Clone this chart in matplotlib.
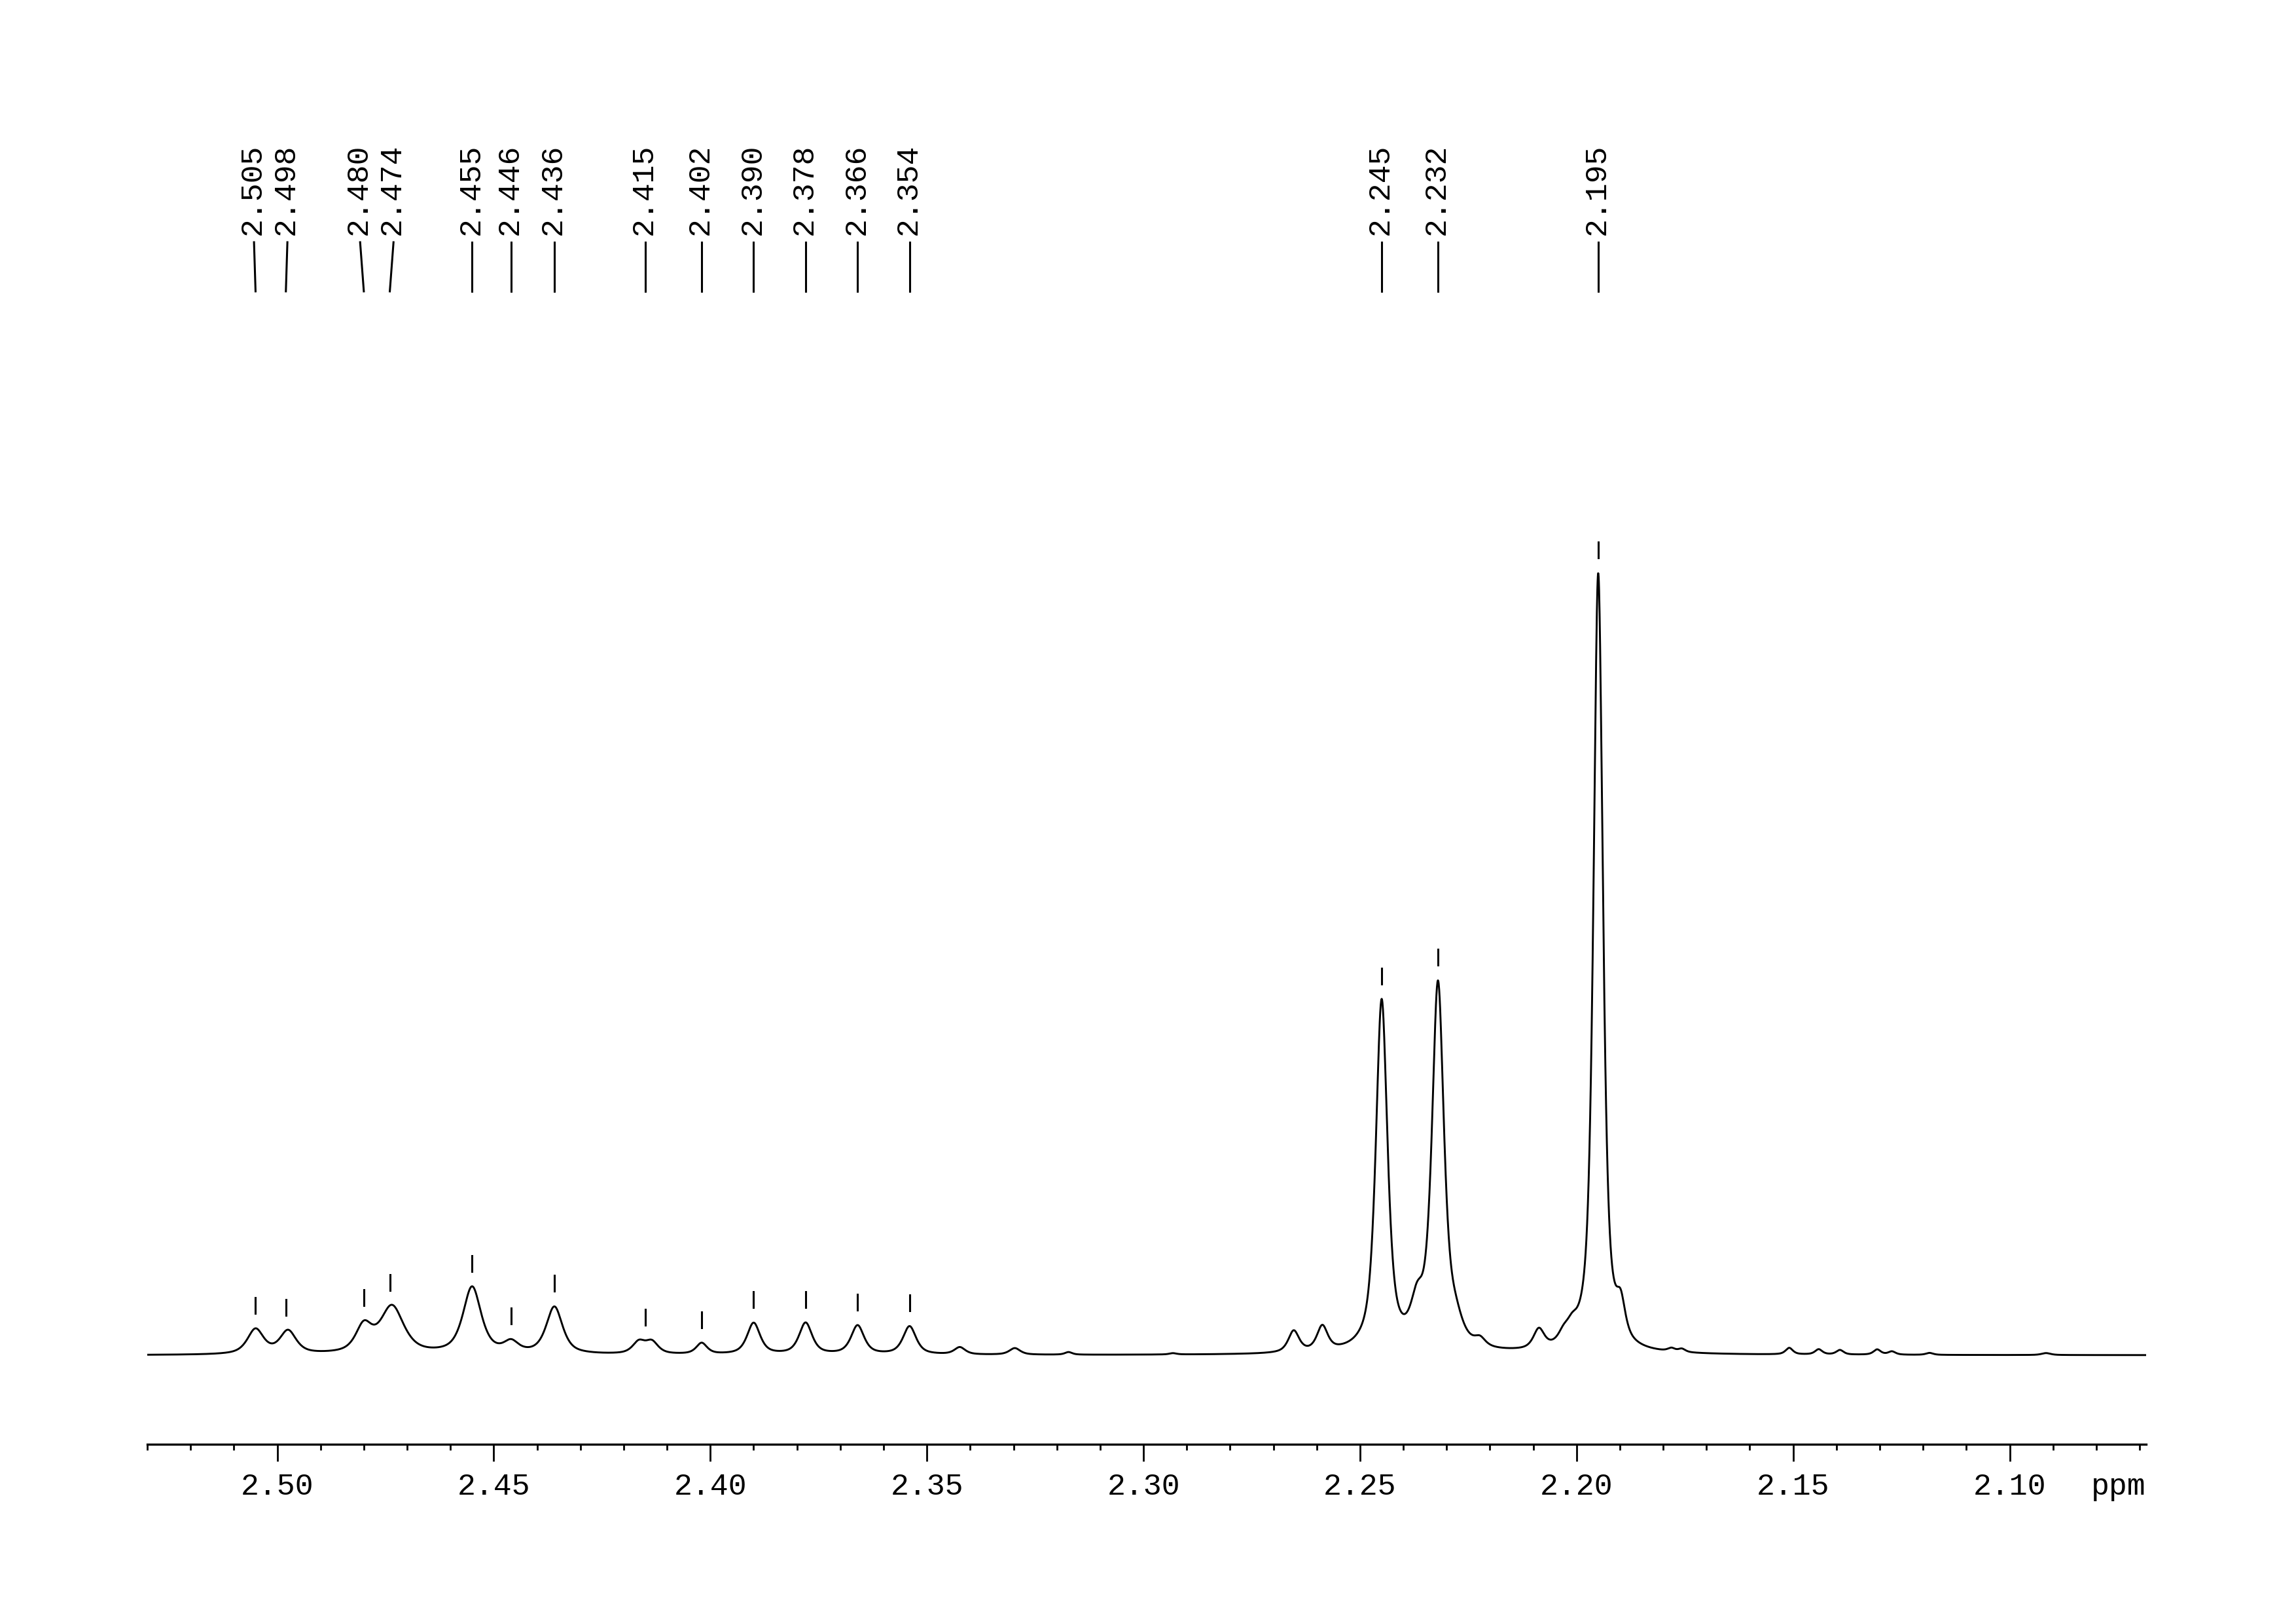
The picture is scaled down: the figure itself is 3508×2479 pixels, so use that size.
import numpy as np
import matplotlib
matplotlib.use("Agg")
import matplotlib.pyplot as plt
from matplotlib.ticker import MultipleLocator, FormatStrFormatter

plt.rcParams['font.family'] = ['Liberation Mono', 'DejaVu Sans Mono']

# peaks: centre (ppm), height (px above baseline), width (ppm FWHM)
peak_ppm = [2.5050, 2.4975, 2.4800, 2.4735, 2.4550, 2.4460, 2.4360, 2.4165, 2.4135,
            2.4020, 2.3900, 2.3780, 2.3660, 2.3540, 2.3424, 2.3297, 2.3173, 2.2932,
            2.2653, 2.2587, 2.2450, 2.2368, 2.2320, 2.2280, 2.2223, 2.2087, 2.2030,
            2.2010, 2.1950, 2.1898, 2.1781, 2.1757, 2.1509, 2.1441, 2.1392, 2.1306,
            2.1272, 2.1185, 2.0916]
peak_height = [38, 35, 40, 72, 102, 16, 72, 18, 18,
               17, 48, 48, 44, 43, 11, 10, 4, 2,
               33, 38, 535, 55, 556, 30, 12, 30, 15,
               20, 1190, 50, 5, 5, 10, 8, 7, 8,
               5, 3, 3]
peak_width = [0.0045, 0.0045, 0.0045, 0.0065, 0.0050, 0.0040, 0.0045, 0.0035, 0.0035,
              0.0030, 0.0036, 0.0036, 0.0036, 0.0036, 0.0030, 0.0030, 0.0020, 0.0020,
              0.0030, 0.0030, 0.0032, 0.0035, 0.0033, 0.0040, 0.0030, 0.0030, 0.0030,
              0.0030, 0.0026, 0.0025, 0.0020, 0.0020, 0.0020, 0.0020, 0.0020, 0.0020,
              0.0020, 0.0020, 0.0025]

# picked peaks shown with labels
label_ppm = [2.505, 2.498, 2.480, 2.474, 2.455, 2.446, 2.436, 2.415, 2.402,
             2.390, 2.378, 2.366, 2.354, 2.245, 2.232, 2.195]

x_left, x_right = 2.5300, 2.0685
px_per_ppm = 3054 / (x_left - x_right)
eta = 0.7  # lorentzian fraction of the line shape


def spectrum(x):
    y = np.zeros_like(x)
    for c, h, w in zip(peak_ppm, peak_height, peak_width):
        d = (x - c) / (w / 2)
        lor = 1 / (1 + d ** 2)
        gau = np.exp(-np.log(2) * d ** 2)
        y += h * (eta * lor + (1 - eta) * gau)
    return y


def spread(pos, min_gap):
    pos = list(pos)
    for _ in range(200):
        for i in range(len(pos) - 1):
            gap = pos[i] - pos[i + 1]
            if gap < min_gap:
                d = (min_gap - gap) / 2
                pos[i] += d
                pos[i + 1] -= d
    return pos


fig = plt.figure(figsize=(35.08, 24.79), dpi=100)
ax = fig.add_axes([225 / 3508, 273 / 2479, 3054 / 3508, 2206 / 2479])

x = np.linspace(x_left, x_right, 8000)
y = spectrum(x)
ax.plot(x, y, color='black', lw=2.1)

# peak markers just above the peak tops
lab_y = spectrum(np.array(label_ppm))
for p, v in zip(label_ppm, lab_y):
    ax.plot([p, p], [v + 23, v + 47], color='black', lw=2.2)

# labels on top with connecting lines
lab_x = spread(label_ppm, 51 / px_per_ppm)
for p, lx in zip(label_ppm, lab_x):
    ax.plot([lx, p], [1700, 1625], color='black', lw=2.2)
    ax.text(lx + 2 / px_per_ppm, 1711, '%.3f' % p, rotation=90, ha='center', va='bottom',
            fontsize=33.5)

ax.set_xlim(x_left, x_right)
ax.set_ylim(-136, 2070)
for s in ['top', 'left', 'right']:
    ax.spines[s].set_visible(False)
ax.spines['bottom'].set_linewidth(2.4)
ax.set_yticks([])
ax.xaxis.set_major_locator(MultipleLocator(0.05))
ax.xaxis.set_minor_locator(MultipleLocator(0.01))
ax.xaxis.set_major_formatter(FormatStrFormatter('%.2f'))
ax.tick_params(axis='x', which='major', length=18.7, width=2.0, labelsize=33.5, pad=12)
ax.tick_params(axis='x', which='minor', length=6.5, width=2.0)

fig.text(3279 / 3508, (2479 - 2283) / 2479, 'ppm', ha='right', va='baseline', fontsize=33.5)

fig.savefig('out.png', dpi=100)
